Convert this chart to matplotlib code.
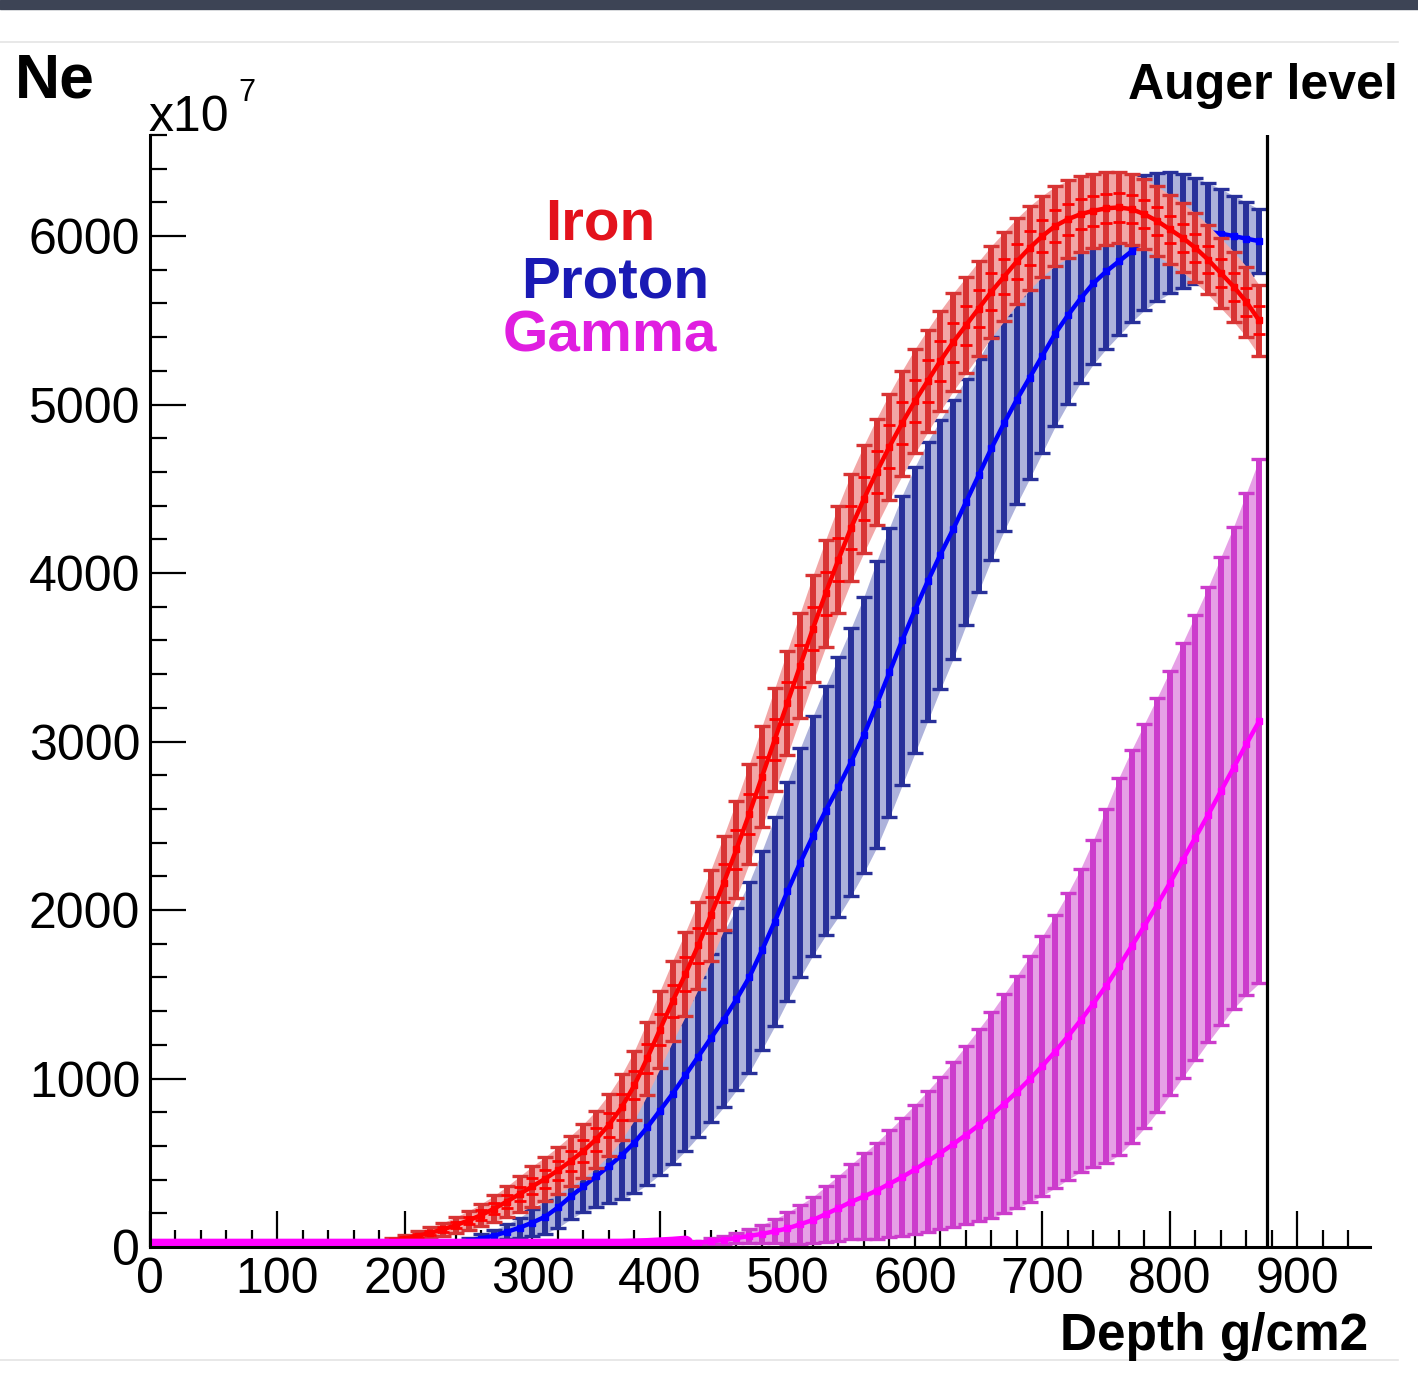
# Ne longitudinal profiles (Iron / Proton / Gamma) down to the Auger level
import numpy as np
import matplotlib.pyplot as plt
from matplotlib.patches import Rectangle
from matplotlib.lines import Line2D

plt.rcParams['font.family'] = ['Liberation Sans', 'DejaVu Sans']

# depth grid, g/cm2
depth = np.arange(0, 880, 10)

# Iron: mean, outer error, inner error (units of 1e7)
iron_mean = [0] * 14 + [
    2, 5, 10, 17, 26, 37, 50, 66, 84, 105,
    130, 158, 190, 228, 270, 315, 360, 405, 455, 510,
    570, 640, 725, 830, 960, 1120, 1290, 1460, 1620, 1790,
    1970, 2160, 2360, 2570, 2790, 3010, 3230, 3450, 3670, 3880,
    4080, 4270, 4440, 4600, 4750, 4890, 5020, 5140, 5260, 5370,
    5470, 5570, 5670, 5760, 5850, 5930, 6000, 6060, 6100, 6130,
    6150, 6165, 6170, 6160, 6130, 6090, 6040, 5990, 5930, 5860,
    5780, 5700, 5610, 5500]
iron_err = [0] * 14 + [
    2, 4, 6, 9, 12, 16, 20, 26, 32, 40,
    48, 57, 67, 78, 90, 105, 120, 130, 140, 150,
    160, 170, 182, 194, 206, 218, 230, 240, 250, 260,
    270, 280, 287, 294, 300, 305, 310, 313, 316, 318,
    320, 320, 319, 317, 315, 312, 310, 305, 298, 291,
    285, 280, 272, 264, 256, 248, 240, 235, 230, 225,
    220, 215, 212, 210, 208, 206, 205, 205, 205, 206,
    207, 208, 209, 210]
iron_err_in = [0] * 14 + [
    1, 2, 2, 3, 5, 6, 8, 10, 13, 16,
    19, 23, 27, 31, 36, 42, 48, 52, 56, 60,
    64, 68, 73, 78, 82, 87, 92, 96, 100, 104,
    108, 112, 115, 118, 120, 122, 124, 125, 126, 127,
    128, 128, 128, 127, 126, 125, 124, 122, 119, 116,
    114, 112, 109, 106, 102, 99, 96, 94, 92, 90,
    88, 86, 85, 84, 83, 82, 82, 82, 82, 82,
    83, 83, 84, 84]

# Proton
proton_mean = [0] * 20 + [
    3, 6, 10, 16, 24, 35, 50, 68, 90, 115,
    145, 180, 235, 300, 360, 420, 480, 545, 620, 710,
    810, 910, 1020, 1130, 1240, 1350, 1470, 1600, 1760, 1930,
    2110, 2280, 2440, 2590, 2730, 2880, 3040, 3220, 3410, 3600,
    3780, 3950, 4110, 4260, 4420, 4580, 4740, 4890, 5030, 5160,
    5290, 5420, 5530, 5630, 5720, 5790, 5850, 5910, 5960, 5995,
    6020, 6030, 6030, 6025, 6015, 6000, 5985, 5970]
proton_err = [0] * 20 + [
    2, 4, 6, 9, 13, 18, 25, 34, 45, 60,
    80, 100, 120, 135, 150, 185, 220, 260, 300, 340,
    380, 415, 450, 475, 500, 520, 540, 565, 590, 620,
    650, 680, 710, 740, 770, 795, 820, 850, 860, 860,
    850, 830, 800, 770, 730, 690, 660, 640, 620, 600,
    575, 550, 525, 500, 480, 460, 440, 420, 400, 380,
    360, 340, 315, 290, 265, 240, 215, 190]

# Gamma
gamma_mean = [0] * 38 + [
    2, 4, 8, 12, 18, 25, 33, 42, 53, 65,
    78, 93, 110, 135, 160, 195, 230, 268, 300, 335,
    375, 415, 460, 508, 558, 610, 665, 722, 782, 850,
    920, 995, 1075, 1160, 1250, 1345, 1445, 1550, 1665, 1785,
    1905, 2030, 2160, 2295, 2430, 2565, 2705, 2845, 2985, 3120]
gamma_err = [0] * 38 + [
    1, 2, 4, 6, 9, 13, 18, 24, 32, 42,
    55, 72, 95, 115, 138, 165, 193, 222, 255, 285,
    318, 352, 385, 418, 452, 490, 530, 570, 610, 650,
    690, 730, 770, 810, 850, 900, 970, 1050, 1120, 1165,
    1200, 1230, 1260, 1290, 1320, 1350, 1390, 1430, 1490, 1555]

auger_depth = 876

W, H = 1418, 1387
fig = plt.figure(figsize=(W / 100, H / 100), dpi=100)
fig.patch.set_facecolor('white')

# screenshot frame bits
fig.add_artist(Rectangle((0, 1 - 9 / H), 1, 9 / H, transform=fig.transFigure,
                         color='#3d4455', zorder=0))
fig.add_artist(Line2D([0, 1398 / W], [1 - 42 / H] * 2, transform=fig.transFigure,
                      color='#e4e4e4', lw=1.2))
fig.add_artist(Line2D([0, 1398 / W], [1 - 1360 / H] * 2, transform=fig.transFigure,
                      color='#e4e4e4', lw=1.2))

ax = fig.add_axes([150 / W, 140 / H, 1220 / W, 1112 / H])
ax.set_xlim(0, 957)
ax.set_ylim(0, 6600)


def band(mean, err, light, dark, line, z, inner=None):
    mean = np.array(mean, float)
    err = np.array(err, float)
    ax.fill_between(depth, mean - err, mean + err, color=light, lw=0, zorder=z)
    ax.errorbar(depth, mean, yerr=err, fmt='none', ecolor=dark, elinewidth=4.3,
                capsize=5.5, capthick=2.4, zorder=z + 0.1)
    if inner is not None:
        ax.errorbar(depth, mean, yerr=inner, fmt='none', ecolor=line,
                    elinewidth=0, capsize=4, capthick=2, zorder=z + 0.2)
    ax.plot(depth, mean, color=line, lw=3.2, marker='s', ms=4.5, zorder=z + 0.3)


band(proton_mean, proton_err, '#adb2db', '#28309a', '#0000ff', 2)
band(iron_mean, iron_err, '#f2a6a6', '#d83434', '#ff0000', 3, inner=iron_err_in)
band(gamma_mean, gamma_err, '#e6a0e6', '#cc3ccc', '#ff00ff', 4)
# thick gamma baseline along zero (half of it is clipped by the axis)
flat = depth <= 420
ax.plot(depth[flat], np.array(gamma_mean)[flat], color='#ff00ff',
        lw=12, zorder=4.5, solid_capstyle='round')

ax.axvline(auger_depth, color='black', lw=2.3, zorder=6)

for s in ['top', 'right']:
    ax.spines[s].set_visible(False)
for s in ['left', 'bottom']:
    ax.spines[s].set_linewidth(2.2)
    ax.spines[s].set_zorder(7)

ax.set_xticks(np.arange(0, 901, 100))
ax.set_xticks(np.arange(0, 957, 20), minor=True)
ax.set_yticks(np.arange(0, 6001, 1000))
ax.set_yticks(np.arange(0, 6601, 200), minor=True)
ax.tick_params(which='major', direction='in', length=26, width=1.6,
               labelsize=36, pad=7)
ax.tick_params(which='minor', direction='in', length=12, width=1.6)

# texts
fig.text(15 / W, 1 - 98 / H, 'Ne', fontsize=45, weight='bold', va='baseline')
fig.text(148 / W, 1 - 131 / H, 'x10', fontsize=36, va='baseline')
fig.text(238 / W, 1 - 101 / H, '7', fontsize=22, va='baseline')
fig.text(1398 / W, 1 - 99 / H, 'Auger level', fontsize=36, weight='bold',
         ha='right', va='baseline')
fig.text(1368 / W, 1 - 1350 / H, 'Depth g/cm2', fontsize=37, weight='bold',
         ha='right', va='baseline')
fig.text(600 / W, 1 - 240 / H, 'Iron', fontsize=42, weight='bold',
         color='#e3121c', ha='center', va='baseline')
fig.text(615 / W, 1 - 298 / H, 'Proton', fontsize=42, weight='bold',
         color='#1a1ab4', ha='center', va='baseline')
fig.text(610 / W, 1 - 352 / H, 'Gamma', fontsize=42, weight='bold',
         color='#e01ee0', ha='center', va='baseline')

fig.savefig('out.png', dpi=100)
